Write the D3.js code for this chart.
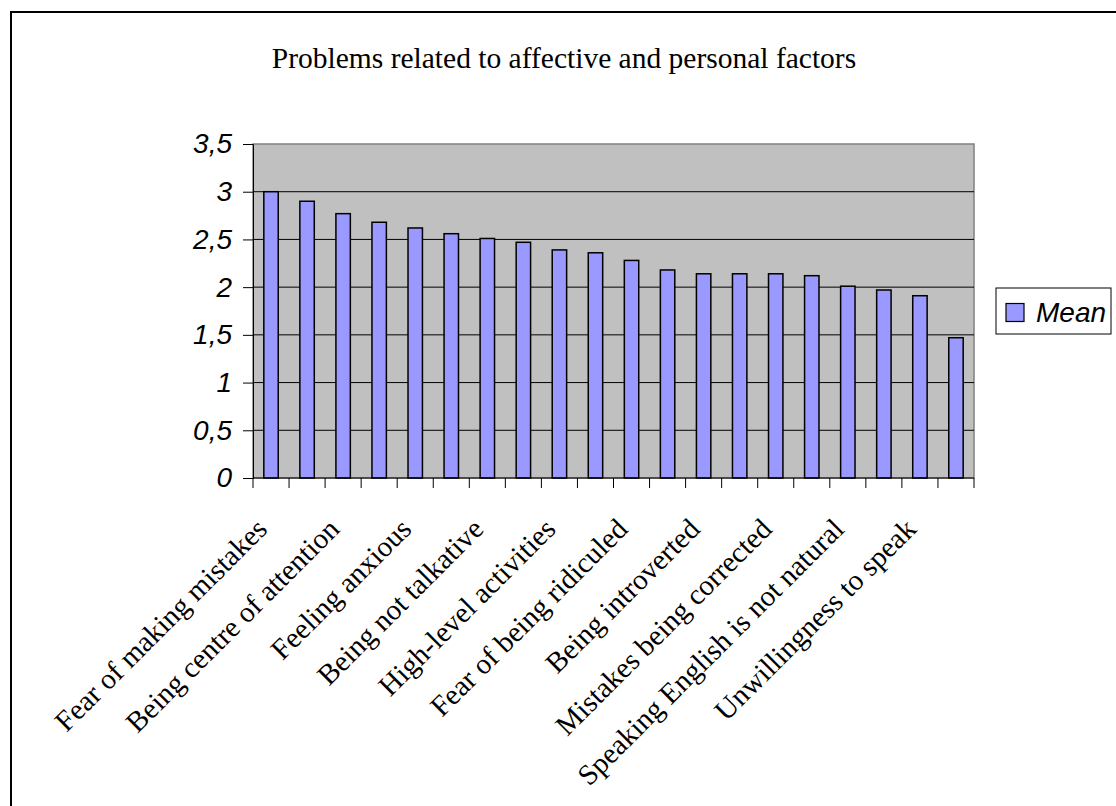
<!DOCTYPE html>
<html>
<head>
<meta charset="utf-8">
<script src="https://cdn.jsdelivr.net/npm/d3@7"></script>
<style>
html, body { margin: 0; padding: 0; background: #fff; }
svg { display: block; }
</style>
</head>
<body>
<svg id="chart" width="1116" height="806"></svg>
<script>
// ---- data ----
const title = "Problems related to affective and personal factors";
// 20 items; only every other label is printed in the original chart
const categories = [
  "Fear of making mistakes", "",
  "Being centre of attention", "",
  "Feeling anxious", "",
  "Being not talkative", "",
  "High-level activities", "",
  "Fear of being ridiculed", "",
  "Being introverted", "",
  "Mistakes being corrected", "",
  "Speaking English is not natural", "",
  "Unwillingness to speak", ""
];
const meanValues = [3.00, 2.90, 2.77, 2.68, 2.62, 2.56, 2.51, 2.47, 2.39, 2.36,
                    2.28, 2.18, 2.14, 2.14, 2.14, 2.12, 2.01, 1.97, 1.91, 1.47];
const yTicks = [0, 0.5, 1, 1.5, 2, 2.5, 3, 3.5];
const yTickLabels = ["0", "0,5", "1", "1,5", "2", "2,5", "3", "3,5"];
const seriesName = "Mean";

// ---- layout ----
const svg = d3.select("#chart");
const plot = { left: 253, right: 974, top: 144, bottom: 478 };

// outer chart border (runs off the right and bottom of the picture)
svg.append("rect")
  .attr("x", 11).attr("y", 12)
  .attr("width", 1200).attr("height", 900)
  .attr("fill", "#fff").attr("stroke", "#000").attr("stroke-width", 2);

svg.append("text")
  .attr("x", 564).attr("y", 68)
  .attr("text-anchor", "middle")
  .attr("font-family", "'Liberation Serif', 'Times New Roman', serif")
  .attr("font-size", 29.5)
  .text(title);

const idx = d3.range(categories.length);
const xBand = d3.scaleBand().domain(idx).range([plot.left, plot.right]);
const y = d3.scaleLinear().domain([0, 3.5]).range([plot.bottom, plot.top]);

// plot background
svg.append("rect")
  .attr("x", plot.left).attr("y", plot.top)
  .attr("width", plot.right - plot.left).attr("height", plot.bottom - plot.top)
  .attr("fill", "#c0c0c0").attr("stroke", "#808080").attr("stroke-width", 1.5);

// gridlines
svg.append("g").selectAll("line")
  .data(yTicks.filter(t => t > 0 && t < 3.5))
  .join("line")
  .attr("x1", plot.left).attr("x2", plot.right)
  .attr("y1", d => y(d)).attr("y2", d => y(d))
  .attr("stroke", "#000").attr("stroke-width", 1);

// bars
svg.append("g").selectAll("rect")
  .data(meanValues)
  .join("rect")
  .attr("x", (d, i) => xBand(i) + xBand.bandwidth() * 0.3)
  .attr("width", xBand.bandwidth() * 0.4)
  .attr("y", d => y(d))
  .attr("height", d => y(0) - y(d))
  .attr("fill", "#9999ff")
  .attr("stroke", "#000").attr("stroke-width", 1.5);

// y axis
const yAxis = d3.axisLeft(y)
  .tickValues(yTicks)
  .tickSize(10)
  .tickPadding(11)
  .tickFormat((d, i) => yTickLabels[i]);
const gy = svg.append("g").attr("transform", `translate(${plot.left},0)`).call(yAxis);
gy.select(".domain").attr("stroke", "#000").attr("stroke-width", 1);
gy.selectAll(".tick line").attr("stroke", "#000");
gy.selectAll(".tick text")
  .attr("font-family", "'Liberation Sans', Arial, sans-serif")
  .attr("font-style", "italic")
  .attr("font-size", 28)
  .attr("fill", "#000");

// x axis: ticks at category boundaries
const boundaries = d3.range(categories.length + 1).map(i => plot.left + i * xBand.step());
const gx = svg.append("g");
gx.append("line")
  .attr("x1", plot.left).attr("x2", plot.right)
  .attr("y1", plot.bottom).attr("y2", plot.bottom)
  .attr("stroke", "#000").attr("stroke-width", 1.2);
gx.selectAll("line.tk")
  .data(boundaries)
  .join("line").attr("class", "tk")
  .attr("x1", d => d).attr("x2", d => d)
  .attr("y1", plot.bottom).attr("y2", plot.bottom + 10)
  .attr("stroke", "#000");

// category labels (rotated -45)
gx.selectAll("text.lbl")
  .data(idx.filter(i => categories[i] !== ""))
  .join("text").attr("class", "lbl")
  .attr("transform", i => `translate(${xBand(i) + xBand.bandwidth() / 2 - 17},${plot.bottom + 38}) rotate(-45)`)
  .attr("text-anchor", "end")
  .attr("dy", "0.72em")
  .attr("font-family", "'Liberation Serif', 'Times New Roman', serif")
  .attr("font-size", 29)
  .text(i => categories[i]);

// legend
const lg = svg.append("g");
lg.append("rect")
  .attr("x", 996).attr("y", 288).attr("width", 115).attr("height", 46)
  .attr("fill", "#fff").attr("stroke", "#000").attr("stroke-width", 1);
lg.append("rect")
  .attr("x", 1006).attr("y", 303.5).attr("width", 18).attr("height", 18)
  .attr("fill", "#9999ff").attr("stroke", "#000").attr("stroke-width", 1.2);
lg.append("text")
  .attr("x", 1036).attr("y", 322)
  .attr("font-family", "'Liberation Sans', Arial, sans-serif")
  .attr("font-style", "italic")
  .attr("font-size", 28)
  .text(seriesName);
</script>
</body>
</html>
